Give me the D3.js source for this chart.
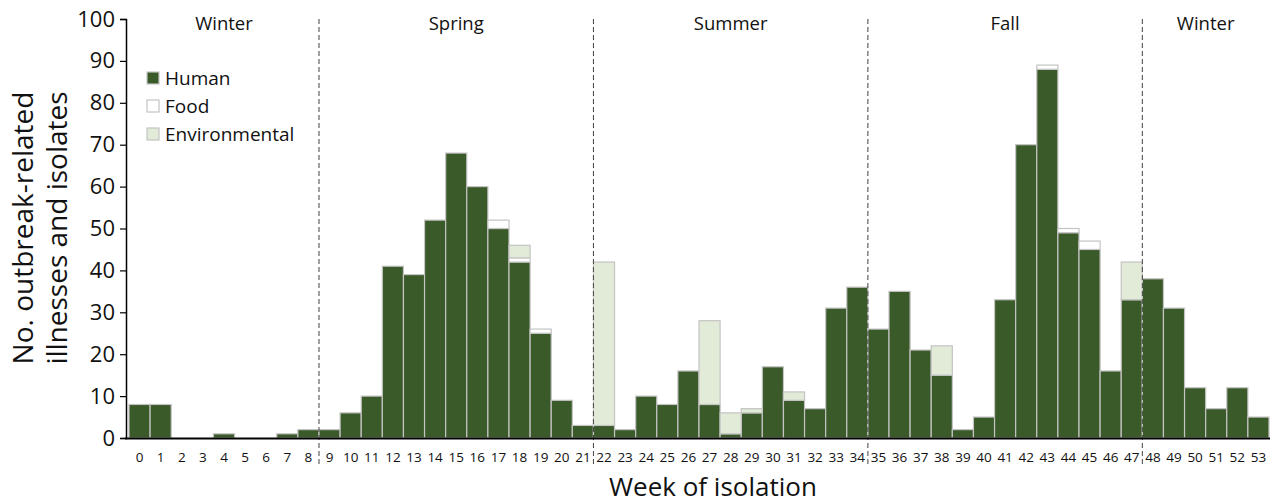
<!DOCTYPE html>
<html>
<head>
<meta charset="utf-8">
<script src="https://cdn.jsdelivr.net/npm/d3@7"></script>
<style>
  body { margin: 0; background: #fff; }
  svg { display: block; font-family: "Open Sans", "Noto Sans", sans-serif; }
</style>
</head>
<body>
<svg id="chart"></svg>
<script>
const width = 1281, height = 504;

// Data
const weeks = d3.range(0, 54);
const human = [8, 8, 0, 0, 1, 0, 0, 1, 2, 2, 6, 10, 41, 39, 52, 68, 60, 50, 42, 25,
  9, 3, 3, 2, 10, 8, 16, 8, 1, 6, 17, 9, 7, 31, 36, 26, 35, 21, 15, 2,
  5, 33, 70, 88, 49, 45, 16, 33, 38, 31, 12, 7, 12, 5];
const food = [0, 0, 0, 0, 0, 0, 0, 0, 0, 0, 0, 0, 0, 0, 0, 0, 0, 2, 1, 1,
  0, 0, 0, 0, 0, 0, 0, 0, 0, 0, 0, 0, 0, 0, 0, 0, 0, 0, 0, 0,
  0, 0, 0, 1, 1, 2, 0, 0, 0, 0, 0, 0, 0, 0];
const environmental = [0, 0, 0, 0, 0, 0, 0, 0, 0, 0, 0, 0, 0, 0, 0, 0, 0, 0, 3, 0,
  0, 0, 39, 0, 0, 0, 0, 20, 5, 1, 0, 2, 0, 0, 0, 0, 0, 0, 7, 0,
  0, 0, 0, 0, 0, 0, 0, 9, 0, 0, 0, 0, 0, 0];
const seasonBreaks = [9, 22, 35, 48]; // first week of each new season
const seasons = [
  { name: "Winter", from: 0, to: 9 },
  { name: "Spring", from: 9, to: 22 },
  { name: "Summer", from: 22, to: 35 },
  { name: "Fall", from: 35, to: 48 },
  { name: "Winter", from: 48, to: 54 }
];
const seriesNames = ["Human", "Food", "Environmental"];
const colors = { Human: "#3b5a29", Food: "#ffffff", Environmental: "#e1ebd8" };
const yTicks = d3.range(0, 101, 10);

const svg = d3.select("#chart")
  .attr("width", width)
  .attr("height", height)
  .attr("viewBox", [0, 0, width, height]);

const x = d3.scaleBand().domain(weeks).range([129, 1269]).paddingInner(0).paddingOuter(0);
const y = d3.scaleLinear().domain([0, 100]).range([438, 19]);
const xEdge = d3.scaleLinear().domain([0, 54]).range([129, 1269]);

const table = weeks.map((w, i) => ({ week: w, Human: human[i], Food: food[i], Environmental: environmental[i] }));
const stack = d3.stack().keys(seriesNames)(table);

// bars
svg.append("g")
  .selectAll("g")
  .data(stack)
  .join("g")
  .attr("fill", d => colors[d.key])
  .selectAll("rect")
  .data(d => d.filter(p => p[1] - p[0] > 0))
  .join("rect")
  .attr("x", d => x(d.data.week))
  .attr("width", x.bandwidth())
  .attr("y", d => y(d[1]))
  .attr("height", d => y(d[0]) - y(d[1]))
  .attr("stroke", "#c4c4c4")
  .attr("stroke-width", 1.2);

// season dividers
svg.append("g")
  .selectAll("line")
  .data(seasonBreaks)
  .join("line")
  .attr("x1", d => xEdge(d))
  .attr("x2", d => xEdge(d))
  .attr("y1", y(100))
  .attr("y2", 465)
  .attr("stroke", "#444")
  .attr("stroke-width", 1)
  .attr("stroke-dasharray", "5,3");

// season labels
svg.append("g")
  .selectAll("text")
  .data(seasons)
  .join("text")
  .attr("x", d => (xEdge(d.from) + xEdge(d.to)) / 2)
  .attr("y", 30)
  .attr("text-anchor", "middle")
  .attr("font-size", 18.5)
  .attr("fill", "#111")
  .text(d => d.name);

// y axis
const yAxis = svg.append("g")
  .attr("transform", "translate(126,0)")
  .call(d3.axisLeft(y).tickValues(yTicks).tickSize(6).tickPadding(5));
yAxis.select(".domain").attr("stroke", "#000").attr("stroke-width", 1.5);
yAxis.selectAll(".tick line").attr("stroke", "#000").attr("stroke-width", 1.2);
yAxis.selectAll(".tick text").attr("font-size", 22).attr("fill", "#111").attr("font-family", "Open Sans, sans-serif");

// x axis
const xAxis = svg.append("g")
  .attr("transform", "translate(0,438)")
  .call(d3.axisBottom(x).tickSize(0).tickPadding(14));
xAxis.select(".domain").remove();
xAxis.selectAll(".tick text").attr("font-size", 13.5).attr("fill", "#111").attr("font-family", "Open Sans, sans-serif");
svg.append("line")
  .attr("x1", 125).attr("x2", 1270)
  .attr("y1", 438.5).attr("y2", 438.5)
  .attr("stroke", "#000").attr("stroke-width", 2.2);

// axis titles
const yTitle = svg.append("text")
  .attr("transform", "translate(40,228) rotate(-90)")
  .attr("text-anchor", "middle")
  .attr("font-size", 28)
  .attr("fill", "#111");
yTitle.append("tspan").attr("x", 0).attr("dy", "-0.25em").text("No. outbreak-related");
yTitle.append("tspan").attr("x", 0).attr("dy", "1.2em").text("illnesses and isolates");

svg.append("text")
  .attr("x", 713)
  .attr("y", 496)
  .attr("text-anchor", "middle")
  .attr("font-size", 26)
  .attr("fill", "#111")
  .text("Week of isolation");

// legend
const legend = svg.append("g")
  .selectAll("g")
  .data(seriesNames)
  .join("g")
  .attr("transform", (d, i) => `translate(147,${72 + i * 28})`);
legend.append("rect")
  .attr("width", 12).attr("height", 12)
  .attr("fill", d => colors[d])
  .attr("stroke", "#c4c4c4")
  .attr("stroke-width", 1.2);
legend.append("text")
  .attr("x", 18)
  .attr("y", 12.5)
  .attr("font-size", 19)
  .attr("fill", "#111")
  .text(d => d);
</script>
</body>
</html>
